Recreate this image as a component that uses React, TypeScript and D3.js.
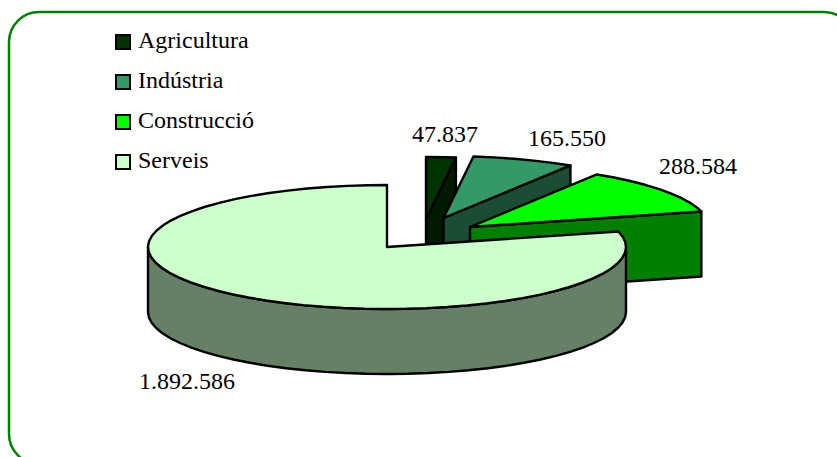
// Sectors 3D pie chart
import React from "react";
import { line, pie, range, rgb, scaleLinear } from "d3";

const categories = ["Agricultura", "Indústria", "Construcció", "Serveis"];
const values = [47837, 165550, 288584, 1892586];
const valueLabels = ["47.837", "165.550", "288.584", "1.892.586"];
const colors = ["#003300", "#339966", "#00ff00", "#ccffcc"];

const width = 837;
const height = 457;
const font = "'Liberation Serif', serif";
const fontSize = 24;

const radiusX = 239;
const radiusY = 62;
const depth = 65;
// pie centre of each slice, the small ones are pulled out
const centers = [
    { x: 426, y: 219 },
    { x: 443.5, y: 218 },
    { x: 470, y: 227 },
    { x: 387, y: 247 },
];
const labelPos = [
    { x: 412, y: 142 },
    { x: 528, y: 146 },
    { x: 659, y: 174 },
    { x: 139, y: 389 },
];

const unitX = scaleLinear().domain([-1, 1]).range([-radiusX, radiusX]);
const unitY = scaleLinear().domain([-1, 1]).range([-radiusY, radiusY]);

const rim = (c, a, dy = 0) => [
    c.x + unitX(Math.sin(a)),
    c.y - unitY(Math.cos(a)) + dy,
];

const arcPoints = (c, a0, a1, dy = 0) => {
    const step = Math.PI / 36;
    const pts = range(a0, a1, step).map((a) => rim(c, a, dy));
    pts.push(rim(c, a1, dy));
    return pts;
};

const path = line();

const darker = (color) => {
    const c = rgb(color);
    return rgb(c.r / 2, c.g / 2, c.b / 2).formatHex();
};

const slices = pie().sort(null)(values);

const App = () => {
    return (
        <svg
            width={width}
            height={height}
            style={{ position: "absolute", left: 0, top: 0 }}
        >
            <rect width={width} height={height} fill="#ffffff" />
            <rect
                x={9}
                y={12}
                width={845}
                height={452}
                rx={30}
                ry={30}
                fill="none"
                stroke="#008000"
                strokeWidth={2.5}
            />
            {slices.map((s, i) => {
                const c = centers[i];
                const apex = [c.x, c.y];
                const isLast = i === slices.length - 1;
                const top = [apex, ...arcPoints(c, s.startAngle, s.endAngle)];
                // cut face at the end angle of the small slices
                const end = rim(c, s.endAngle);
                const face = [
                    apex,
                    end,
                    [end[0], end[1] + depth],
                    [apex[0], apex[1] + depth],
                ];
                // outer wall of the big slice, front half of the ellipse
                const wall = [
                    ...arcPoints(c, Math.PI / 2, (Math.PI * 3) / 2),
                    ...arcPoints(c, Math.PI / 2, (Math.PI * 3) / 2, depth).reverse(),
                ];
                return (
                    <g key={categories[i]} stroke="#000000" strokeWidth={2.4} strokeLinejoin="round">
                        <path
                            d={path(isLast ? wall : face) + "Z"}
                            fill={darker(colors[i])}
                        />
                        <path d={path(top) + "Z"} fill={colors[i]} />
                    </g>
                );
            })}
            {categories.map((name, i) => (
                <g key={name}>
                    <rect
                        x={116}
                        y={35 + i * 40}
                        width={14}
                        height={14}
                        fill={colors[i]}
                        stroke="#000000"
                        strokeWidth={2}
                    />
                    <text
                        x={138}
                        y={48 + i * 40}
                        fontFamily={font}
                        fontSize={fontSize}
                        fill="#000000"
                    >
                        {name}
                    </text>
                </g>
            ))}
            {valueLabels.map((label, i) => (
                <text
                    key={label}
                    x={labelPos[i].x}
                    y={labelPos[i].y}
                    fontFamily={font}
                    fontSize={fontSize}
                    fill="#000000"
                >
                    {label}
                </text>
            ))}
        </svg>
    );
};

export default App;
